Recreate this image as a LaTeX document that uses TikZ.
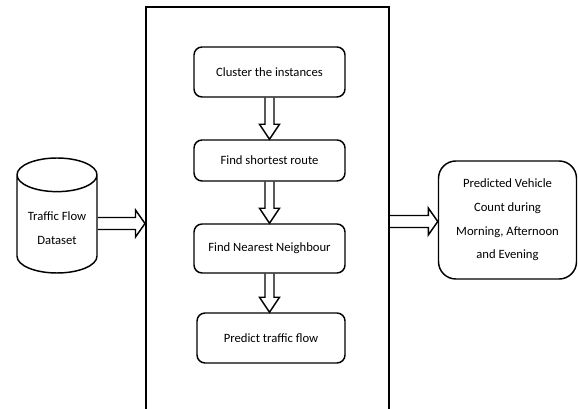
\documentclass[tikz,border=0pt]{standalone}
\usepackage{fontspec}
\setmainfont{Carlito}
\usetikzlibrary{calc,shapes.geometric}

\tikzset{
  stepbox/.style={draw, line width=1.1pt, rounded corners=6pt, minimum width=113.25pt,
    align=center, font=\fontsize{9.5}{12}\selectfont},
  hollow/.style={draw, line width=1.1pt, line join=miter},
}

% hollow block arrow pointing down, from box to box
\newcommand{\hollowdown}[2]{%
  \draw[hollow] ($(#1.south)+(-4.5,0)$) -- ($(#1.south |- #2.north)+(-4.5,-15)$) -- ++(-5.5,0)
    -- (#1.south |- #2.north) -- ($(#1.south |- #2.north)+(10,-15)$) -- ++(-5.5,0)
    -- ($(#1.south)+(4.5,0)$);}
% hollow block arrow pointing right
\newcommand{\hollowright}[2]{%
  \draw[hollow] ($(#1)+(0,-6)$) -- ($(#2)+(-9.5,-6)$) -- ++(0,-7.5) -- (#2)
    -- ($(#2)+(-9.5,13.5)$) -- ++(0,-7.5) -- ($(#1)+(0,6)$);}

\begin{document}
\begin{tikzpicture}[x=0.75pt,y=0.75pt,yscale=-1,xscale=1]
\useasboundingbox (0,0) rectangle (578,409);

% outer frame, cut off at the bottom
\node[draw, line width=1.5pt, minimum width=182.25pt, minimum height=334.5pt] (frame) at (267.5,230) {};

\node[stepbox, minimum height=37.5pt] (cluster) at (269.5,72) {Cluster the instances};
\node[stepbox, minimum height=30.75pt] (route) at (269.5,160.5) {Find shortest route};
\node[stepbox, minimum height=36.75pt] (near) at (269.5,248.5) {Find Nearest Neighbour};
\node[stepbox, minimum width=111pt, minimum height=37.5pt] (pred) at (271,338) {Predict traffic flow};

\node[cylinder, shape border rotate=90, draw, line width=1.1pt, minimum width=60pt,
  minimum height=86.25pt, aspect=0.5, align=center, anchor=shape center,
  font=\fontsize{9.5}{18}\selectfont] (data) at (57,215.5) {Traffic Flow\\Dataset};

\node[draw, line width=1.1pt, rounded corners=13pt, minimum width=103.5pt, minimum height=88.5pt,
  align=center, font=\fontsize{9.5}{17.75}\selectfont] (count) at (507.5,220)
  {Predicted Vehicle\\Count during\\Morning, Afternoon\\and Evening};

\hollowdown{cluster}{route}
\hollowdown{route}{near}
\hollowdown{near}{pred}

\coordinate (dsout) at ($(data.shape center -| data.east)+(0,8)$);
\hollowright{dsout}{frame.west |- dsout}
\coordinate (cntin) at ($(count.west)+(0,1.5)$);
\hollowright{frame.east |- cntin}{cntin}

\end{tikzpicture}
\end{document}
